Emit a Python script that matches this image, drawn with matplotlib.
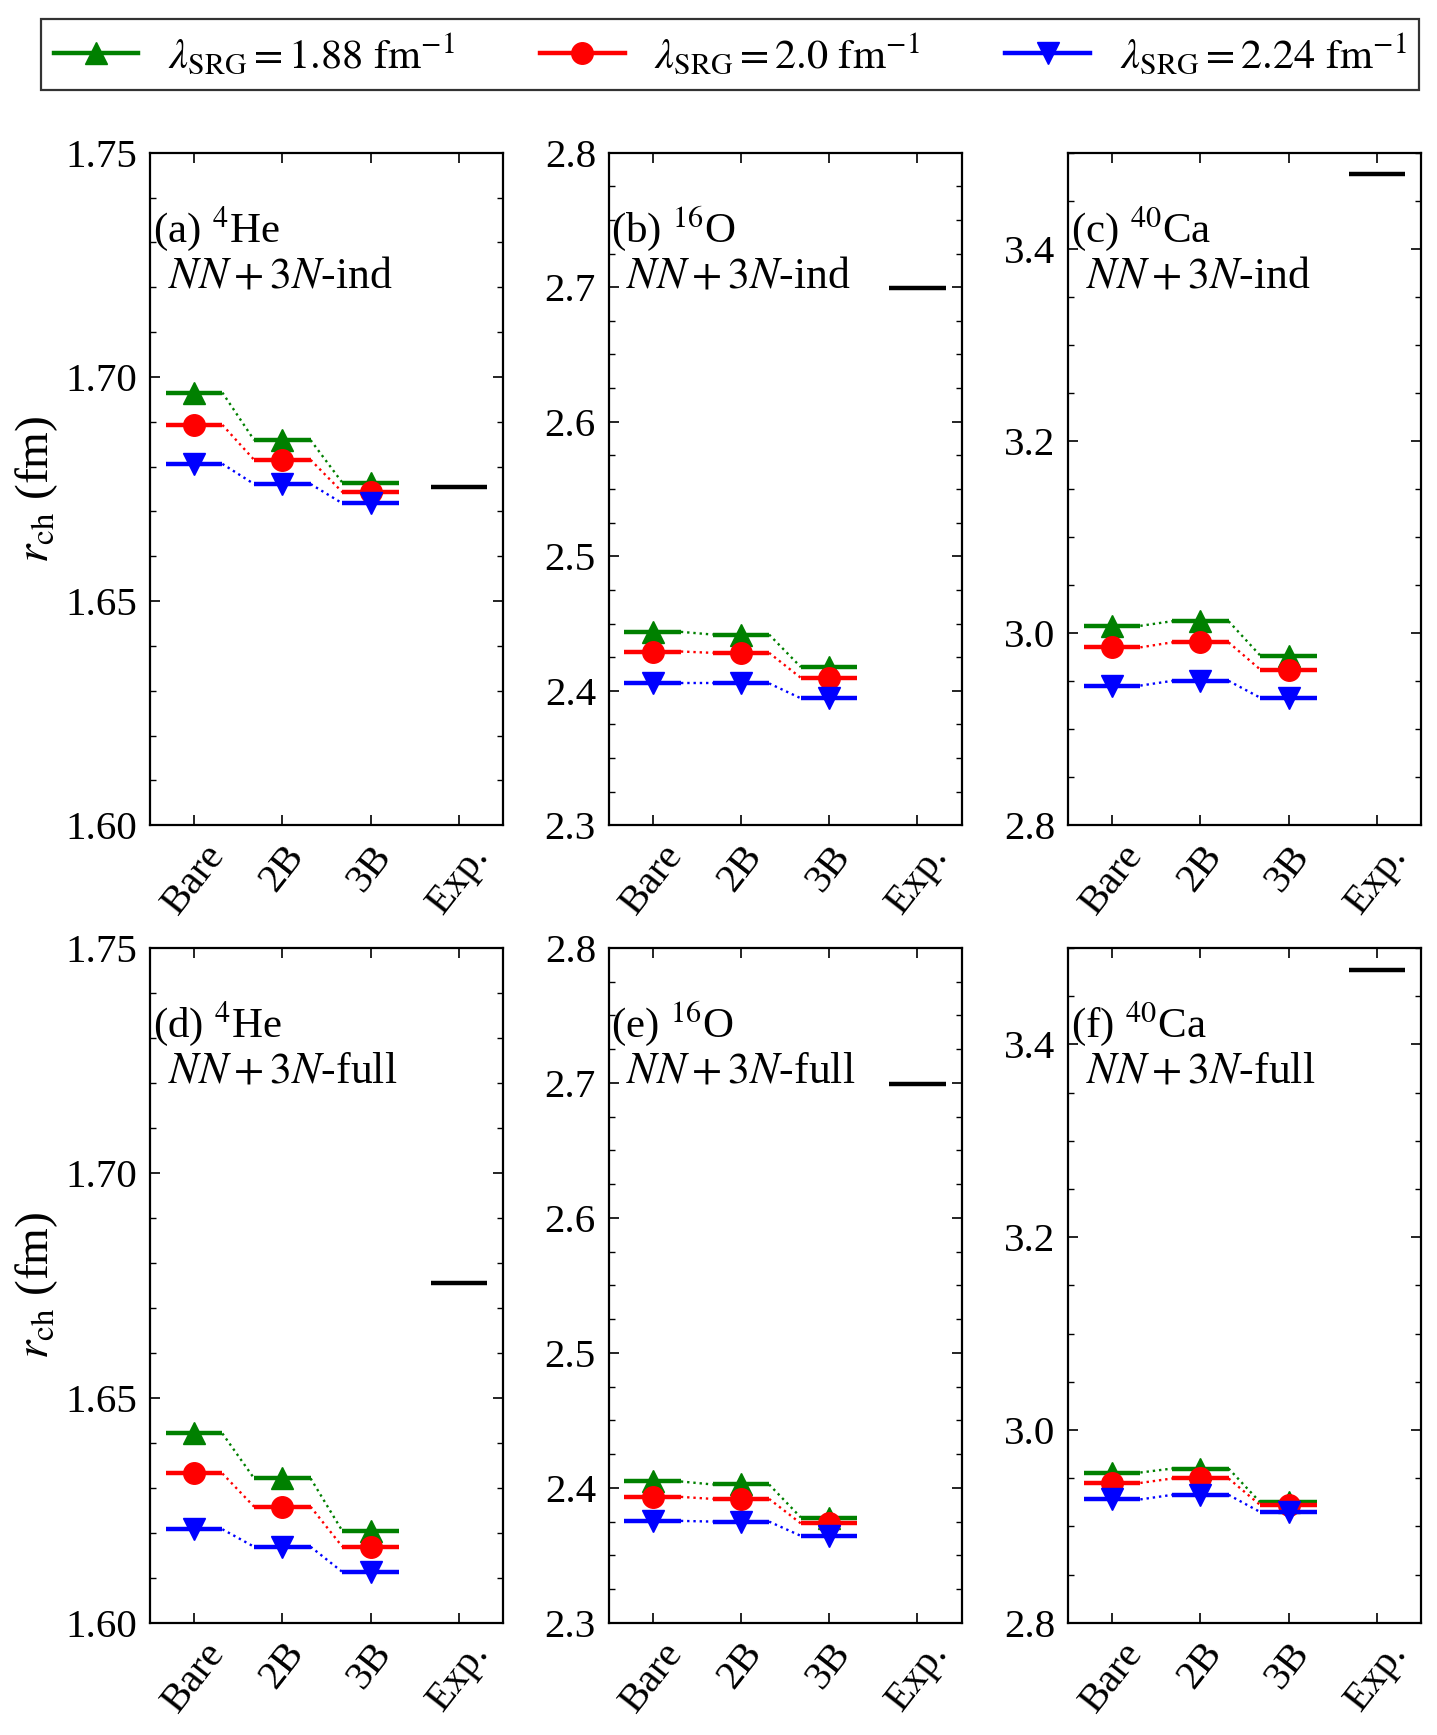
import matplotlib
matplotlib.use("Agg")
import matplotlib.pyplot as plt
from matplotlib.ticker import MultipleLocator
from matplotlib.lines import Line2D

plt.rcParams['font.family'] = ['Liberation Serif', 'DejaVu Serif']
plt.rcParams['mathtext.fontset'] = 'stix'

categories = ['Bare', '2B', '3B', 'Exp.']
series_labels = [r'$\lambda_{\rm SRG} = 1.88\ {\rm fm}^{-1}$',
                 r'$\lambda_{\rm SRG} = 2.0\ {\rm fm}^{-1}$',
                 r'$\lambda_{\rm SRG} = 2.24\ {\rm fm}^{-1}$']
series_colors = ['green', 'red', 'blue']
series_markers = ['^', 'o', 'v']

# values for Bare, 2B, 3B
He4_ind_188 = [1.6965, 1.6859, 1.6764]
He4_ind_200 = [1.6893, 1.6815, 1.6743]
He4_ind_224 = [1.6806, 1.6761, 1.6718]
O16_ind_188 = [2.4438, 2.4418, 2.4176]
O16_ind_200 = [2.4292, 2.4282, 2.4096]
O16_ind_224 = [2.4055, 2.4055, 2.3944]
Ca40_ind_188 = [3.0076, 3.0124, 2.9765]
Ca40_ind_200 = [2.9852, 2.9904, 2.9620]
Ca40_ind_224 = [2.9454, 2.9503, 2.9327]
He4_full_188 = [1.6421, 1.6321, 1.6204]
He4_full_200 = [1.6332, 1.6258, 1.6169]
He4_full_224 = [1.6208, 1.6169, 1.6113]
O16_full_188 = [2.4047, 2.4025, 2.3780]
O16_full_200 = [2.3933, 2.3918, 2.3736]
O16_full_224 = [2.3755, 2.3750, 2.3644]
Ca40_full_188 = [2.9559, 2.9600, 2.9248]
Ca40_full_200 = [2.9451, 2.9497, 2.9220]
Ca40_full_224 = [2.9280, 2.9327, 2.9148]

exp_He4 = 1.6755
exp_O16 = 2.6991
exp_Ca40 = 3.4776

panel_labels = [r'(a) $^{4}$He', r'(b) $^{16}$O', r'(c) $^{40}$Ca',
                r'(d) $^{4}$He', r'(e) $^{16}$O', r'(f) $^{40}$Ca']
interaction_labels = [r'$NN+3N$-ind', r'$NN+3N$-full']

panels = [
    ([He4_ind_188, He4_ind_200, He4_ind_224], exp_He4, (1.60, 1.75), 0.05, 0.01),
    ([O16_ind_188, O16_ind_200, O16_ind_224], exp_O16, (2.3, 2.8), 0.1, 0.025),
    ([Ca40_ind_188, Ca40_ind_200, Ca40_ind_224], exp_Ca40, (2.8, 3.5), 0.2, 0.05),
    ([He4_full_188, He4_full_200, He4_full_224], exp_He4, (1.60, 1.75), 0.05, 0.01),
    ([O16_full_188, O16_full_200, O16_full_224], exp_O16, (2.3, 2.8), 0.1, 0.025),
    ([Ca40_full_188, Ca40_full_200, Ca40_full_224], exp_Ca40, (2.8, 3.5), 0.2, 0.05),
]

W, H = 1437, 1735
fig = plt.figure(figsize=(W / 100, H / 100), dpi=100)

lefts = [150, 608.5, 1068]
tops = [152.7, 948]
aw = 353
ah = [672.6, 674.8]
hw = 0.32

for k, (series, expv, ylim, major, minor) in enumerate(panels):
    r, c = divmod(k, 3)
    ax = fig.add_axes([lefts[c] / W, 1 - (tops[r] + ah[r]) / H, aw / W, ah[r] / H])
    for vals, col, mk in zip(series, series_colors, series_markers):
        for i, v in enumerate(vals):
            ax.plot([i - hw, i + hw], [v, v], color=col, lw=3.2, solid_capstyle='butt')
            ax.plot([i], [v], marker=mk, color=col, ms=15.5, mec=col, ls='none')
            if i + 1 < len(vals):
                ax.plot([i + hw, i + 1 - hw], [v, vals[i + 1]], ls=':', color=col, lw=1.7)
    ax.plot([3 - hw, 3 + hw], [expv, expv], color='black', lw=3.2, solid_capstyle='butt')
    ax.set_xlim(-0.5, 3.5)
    ax.set_ylim(*ylim)
    ax.yaxis.set_major_locator(MultipleLocator(major))
    ax.yaxis.set_minor_locator(MultipleLocator(minor))
    ax.set_xticks(range(len(categories)))
    ax.set_xticklabels(categories, rotation=52, ha='center')
    ax.tick_params(which='both', direction='in', top=True, right=True, labelsize=29.5)
    ax.tick_params(which='major', length=7, width=1.2, pad=9)
    ax.tick_params(which='minor', length=4, width=1.0)
    for s in ax.spines.values():
        s.set_linewidth(1.6)
    ax.text(0.008, 0.8677, panel_labels[k], transform=ax.transAxes, fontsize=31,
            va='baseline', ha='left')
    ax.text(0.05, 0.80, interaction_labels[r], transform=ax.transAxes, fontsize=31.5,
            va='baseline', ha='left')
    if c == 0:
        ax.set_ylabel(r'$r_{\rm ch}$ (fm)', fontsize=34, labelpad=4)

handles = [Line2D([], [], color=col, marker=mk, ms=15.5, mec=col, lw=3.2)
           for col, mk in zip(series_colors, series_markers)]
leg = fig.legend(handles, series_labels, loc='lower left', ncol=3, mode='expand',
                 bbox_to_anchor=(41 / W, 1 - 90 / H, 1378 / W, 76 / H),
                 fontsize=30.5, numpoints=1, handlelength=2.0, handletextpad=0.7,
                 fancybox=False, frameon=True, borderaxespad=0.0, borderpad=0.3)
leg.get_frame().set_edgecolor('black')
leg.get_frame().set_linewidth(1.6)

fig.savefig('out.png', dpi=100)
